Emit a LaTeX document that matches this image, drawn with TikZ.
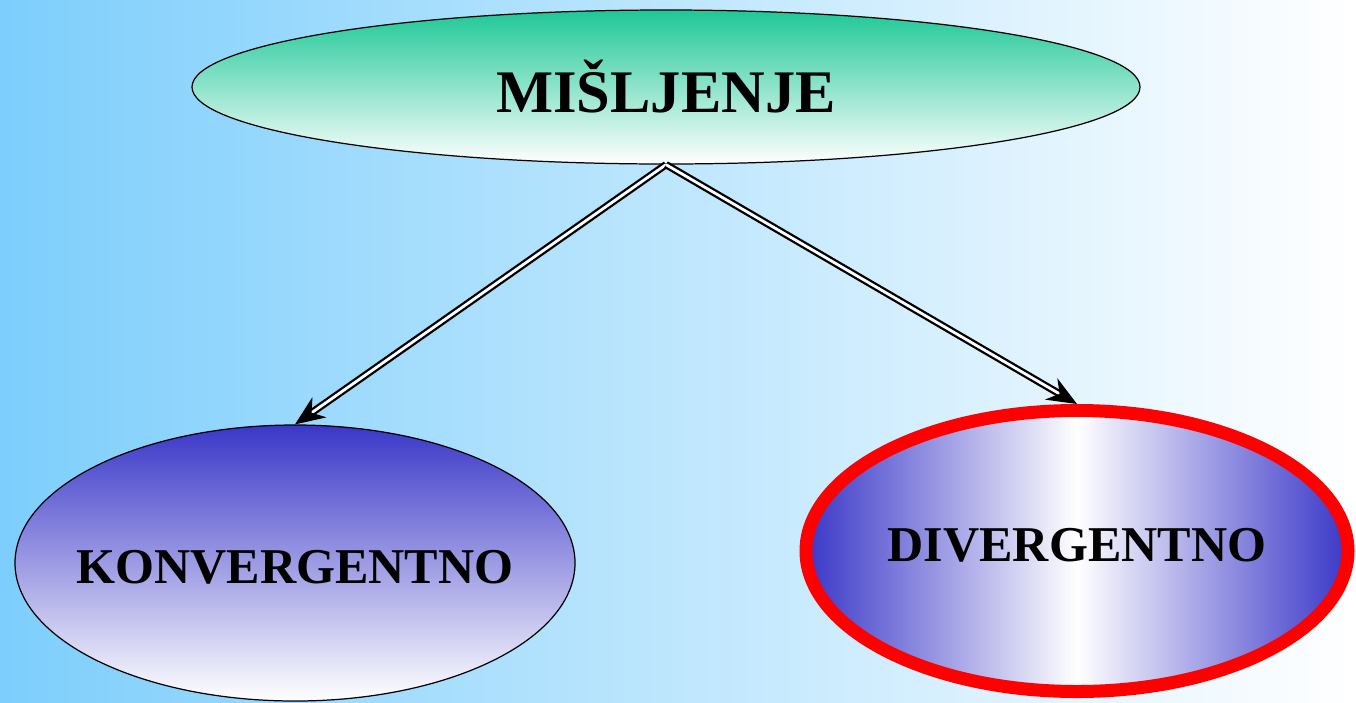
\documentclass[tikz,border=0pt]{standalone}
\usepackage{fontspec}
\setmainfont{Liberation Serif}
\usepackage{tikz}
\usepackage{xcolor}
\usetikzlibrary{arrows.meta,shapes.geometric,positioning}

\definecolor{skyblue}{RGB}{125,206,252}
\definecolor{mintgreen}{RGB}{30,200,150}
\definecolor{royal}{RGB}{58,55,200}

\begin{document}
\begin{tikzpicture}[x=0.2mm,y=-0.2mm,
  bubble/.style={ellipse,draw=black,line width=0.7pt,inner sep=0pt},
  caption/.style={font=\bfseries\fontsize{28.5}{32}\selectfont},
  link/.style={draw=black,double=white,double distance=1.6pt,line width=1.3pt,-{Stealth[length=17pt,width=14pt]}}]
\useasboundingbox (0,0) rectangle (1356,702);
\shade[left color=skyblue,right color=white,draw=none] (0,0) rectangle (1356,702);
\node[bubble,top color=mintgreen,bottom color=white,minimum width=18.96cm,minimum height=3.08cm,font=\bfseries\fontsize{34.4}{40}\selectfont] (misljenje) at (666,87) {MIŠLJENJE};
\node[bubble,top color=royal,bottom color=white,minimum width=11.2cm,minimum height=5.52cm,
  label={[caption,yshift=-0.08cm]center:KONVERGENTNO}] (konv) at (295,563) {};
\node[bubble,draw=red,line width=0.26cm,left color=royal,right color=royal,middle color=white,minimum width=10.84cm,minimum height=5.62cm,
  label={[caption,yshift=0.12cm]center:DIVERGENTNO}] (div) at (1077,551) {};
\draw[link] (misljenje.south) -- (konv.north);
\draw[link] (misljenje.south) -- (div.north);
\end{tikzpicture}
\end{document}
